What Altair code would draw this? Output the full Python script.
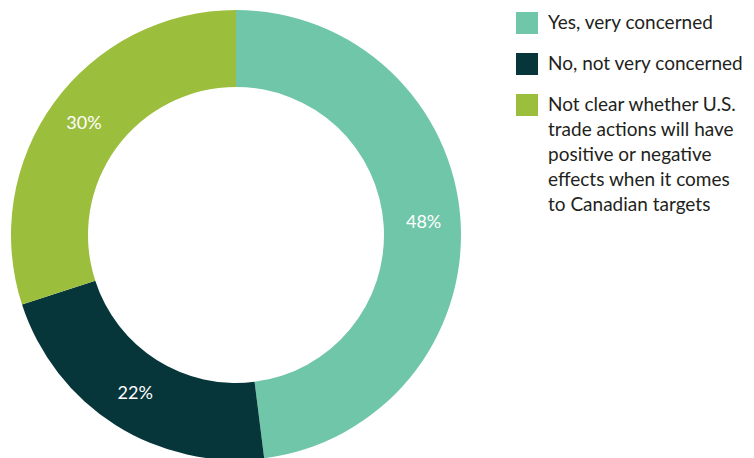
import json
import altair as alt
import pandas as pd

categories = [
    "Yes, very concerned",
    "No, not very concerned",
    "Not clear whether U.S. trade actions will have positive or negative effects when it comes to Canadian targets",
]
values = [48, 22, 30]
labels = ["48%", "22%", "30%"]
colors = ["#70C6A8", "#06363A", "#9CBE3D"]
legend_lines = [
    ["Yes, very concerned"],
    ["No, not very concerned"],
    ["Not clear whether U.S.", "trade actions will have", "positive or negative",
     "effects when it comes", "to Canadian targets"],
]

df = pd.DataFrame({
    "category": categories,
    "value": values,
    "label": labels,
    "order": list(range(len(categories))),
})

expr = "datum.label"
for cat, lines in zip(reversed(categories), reversed(legend_lines)):
    expr = f"datum.label == {json.dumps(cat)} ? {json.dumps(lines)} : ({expr})"

base = alt.Chart(df).encode(
    theta=alt.Theta("value:Q", stack=True),
    order=alt.Order("order:Q"),
)

arcs = base.mark_arc(innerRadius=148, outerRadius=225).encode(
    x=alt.value(236),
    y=alt.value(235),
    color=alt.Color(
        "category:N",
        scale=alt.Scale(domain=categories, range=colors),
        sort=categories,
        legend=alt.Legend(
            title=None,
            orient="none",
            legendX=516,
            legendY=12,
            symbolType="square",
            symbolSize=484,
            symbolStrokeWidth=0,
            symbolOpacity=1,
            labelFont="Lato",
            labelFontSize=19,
            labelColor="#231F20",
            labelOffset=10,
            labelLimit=400,
            rowPadding=19,
            padding=0,
            labelExpr=expr,
        ),
    ),
)

text = base.mark_text(radius=188, font="Lato", fontSize=18, color="white").encode(
    x=alt.value(236),
    y=alt.value(235),
    text="label:N",
)

chart = (arcs + text).properties(
    width=754, height=458, autosize=alt.AutoSizeParams(type="none"), padding=0
).configure(
    style={"guide-label": {"lineHeight": 25}}
).configure_view(stroke=None)

chart.save("out.html", embed_options={"renderer": "svg", "actions": False})
